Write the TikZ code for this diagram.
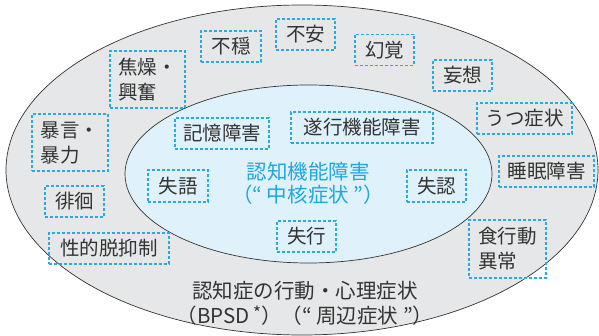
\documentclass[tikz,border=0pt]{standalone}
\usepackage{fontspec}
\setmainfont{Noto Sans CJK JP}
\definecolor{outerfill}{HTML}{E6E7E8}
\definecolor{innerfill}{HTML}{DFF2FB}
\definecolor{dashcyan}{HTML}{29ABE2}
\definecolor{txtcyan}{HTML}{1FA6E0}
\definecolor{txtgray}{HTML}{333333}
\begin{document}
\begin{tikzpicture}[x=1pt,y=-1pt,
  lbl/.style={draw=dashcyan, line width=1.1pt, dash pattern=on 3pt off 2pt,
    text=txtgray, font=\fontsize{19.5}{25}\selectfont, inner sep=0pt, align=left},
  ell/.style={draw=black!80, line width=0.7pt}]
\useasboundingbox (0,0) rectangle (599,336);
\draw[ell, fill=outerfill] (302,170) ellipse [x radius=296, y radius=165];
\draw[ell, fill=innerfill] (308.5,174) ellipse [x radius=183.5, y radius=89];

\node[lbl, minimum width=60pt, minimum height=31pt] (fuon) at (231,46.5) {不穏};
\node[lbl, minimum width=59pt, minimum height=31pt] (fuan) at (305.5,34.5) {不安};
\node[lbl, minimum width=59pt, minimum height=31pt] (genkaku) at (384.5,50) {幻覚};
\node[lbl, minimum width=59pt, minimum height=31pt] (mousou) at (462.5,75.5) {妄想};
\node[lbl, minimum width=95pt, minimum height=31pt] (utsu) at (524.5,118.5) {うつ症状};
\node[lbl, minimum width=95pt, minimum height=31pt] (suimin) at (546.5,171.5) {睡眠障害};
\node[lbl, minimum width=77pt, minimum height=58pt] (shoku) at (507.5,249) {食行動\\異常};
\node[lbl, minimum width=75pt, minimum height=57pt] (shouso) at (147.5,79.5) {焦燥・\\興奮};
\node[lbl, minimum width=76pt, minimum height=57pt] (bougen) at (70,142.5) {暴言・\\暴力};
\node[lbl, minimum width=59pt, minimum height=31pt] (haikai) at (74.5,201.5) {徘徊};
\node[lbl, minimum width=120pt, minimum height=31pt] (seiteki) at (109,248.5) {性的脱抑制};
\node[lbl, minimum width=94pt, minimum height=31pt] (kioku) at (222,133.5) {記憶障害};
\node[lbl, minimum width=142pt, minimum height=31pt] (suikou) at (362,127.5) {遂行機能障害};
\node[lbl, minimum width=60pt, minimum height=32pt] (shitsugo) at (178,186) {失語};
\node[lbl, minimum width=59pt, minimum height=32pt] (shitsunin) at (436.5,186) {失認};
\node[lbl, minimum width=59pt, minimum height=31pt] (shikkou) at (306.5,236.5) {失行};

\node[text=txtcyan, font=\fontsize{20.5}{23}\selectfont, align=center] (core) at (308,183)
  {認知機能障害\\（“ 中核症状 ”）};
\node[text=txtgray, font=\fontsize{20.5}{25}\selectfont, align=center] (bpsd) at (305,303)
  {認知症の行動・心理症状\\（BPSD\,\raisebox{0.2em}{\fontsize{17}{17}\selectfont *}）（“ 周辺症状 ”）};
\end{tikzpicture}
\end{document}
